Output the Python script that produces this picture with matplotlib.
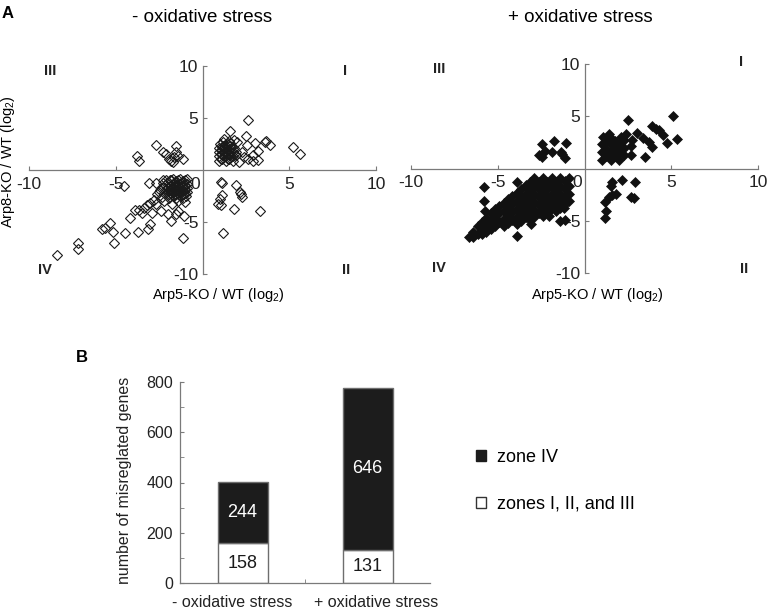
import numpy as np
import matplotlib.pyplot as plt
from matplotlib.patches import Patch

plt.rcParams['font.family'] = ['Liberation Sans', 'DejaVu Sans']
plt.rcParams['mathtext.fontset'] = 'custom'
plt.rcParams['mathtext.rm'] = 'Liberation Sans'
plt.rcParams['mathtext.default'] = 'regular'
plt.rcParams['axes.unicode_minus'] = False

# ---- panel A, - oxidative stress (Arp5-KO/WT, Arp8-KO/WT)
minus_q1 = [(0.95, 0.9), (0.95, 1.3), (0.95, 1.7), (0.97, 2.1), (1.0, 2.5),
            (1.15, 1.1), (1.15, 1.5), (1.15, 1.9), (1.17, 2.3), (1.2, 2.7),
            (1.35, 0.9), (1.35, 1.3), (1.35, 1.7), (1.37, 2.1), (1.4, 2.5),
            (1.55, 1.1), (1.55, 1.5), (1.55, 1.9), (1.57, 2.3), (1.5, 2.8),
            (1.75, 0.9), (1.75, 1.3), (1.75, 1.7), (1.8, 2.1), (1.8, 2.9),
            (1.05, 1.1), (1.05, 1.5), (1.05, 1.9), (1.25, 1.3), (1.25, 1.7),
            (1.25, 2.1), (1.45, 1.1), (1.45, 1.5), (1.45, 1.9), (1.65, 1.3),
            (1.65, 1.7), (1.65, 2.1), (1.3, 2.4), (1.1, 2.2), (1.6, 2.6),
            (1.25, 3.0), (1.95, 1.45), (1.95, 1.75), (2.0, 2.7),
            (2.65, 4.85), (1.6, 3.75), (2.5, 3.3), (3.0, 2.6), (3.6, 2.7),
            (3.65, 2.75), (3.9, 2.4), (2.55, 2.4), (3.2, 1.8), (2.9, 1.45),
            (3.2, 1.0), (2.9, 0.85), (2.4, 1.25), (2.1, 0.8), (2.6, 1.1),
            (5.2, 2.2), (5.6, 1.5), (2.3, 1.7)]
minus_q2 = [(1.05, -1.2), (1.15, -1.25), (1.95, -1.4), (2.15, -2.1), (2.3, -2.6),
            (1.1, -2.45), (1.0, -2.8), (0.9, -3.3), (1.05, -3.4), (1.8, -3.75),
            (3.3, -3.9), (1.2, -6.1), (2.2, -2.3)]
minus_q3 = [(-2.7, 2.4), (-3.8, 1.3), (-3.65, 0.9), (-2.25, 1.75), (-2.1, 1.5),
            (-1.95, 1.1), (-1.8, 0.85), (-1.5, 2.3), (-1.55, 1.75), (-1.65, 1.25),
            (-1.4, 1.3), (-1.1, 1.05), (-1.7, 0.8)]
minus_q4 = [(-0.9, -0.9), (-0.9, -1.3), (-0.9, -1.7), (-0.92, -2.1), (-0.95, -2.5),
            (-1.1, -1.1), (-1.1, -1.5), (-1.1, -1.9), (-1.12, -2.3), (-1.1, -2.7),
            (-1.3, -0.9), (-1.3, -1.3), (-1.3, -1.7), (-1.32, -2.1), (-1.3, -2.5),
            (-1.5, -1.1), (-1.5, -1.5), (-1.5, -1.9), (-1.52, -2.3), (-1.5, -2.7),
            (-1.7, -0.9), (-1.7, -1.3), (-1.7, -1.7), (-1.72, -2.1), (-1.7, -2.5),
            (-1.9, -1.0), (-1.9, -1.5), (-1.9, -1.9), (-1.92, -2.3), (-1.95, -2.7),
            (-2.1, -0.95), (-2.15, -1.4), (-2.1, -1.8), (-2.2, -2.2), (-2.35, -2.6),
            (-1.0, -1.0), (-1.0, -1.4), (-1.0, -1.8), (-1.0, -2.2), (-1.2, -1.2),
            (-1.2, -1.6), (-1.2, -2.0), (-1.2, -2.4), (-1.4, -1.0), (-1.4, -1.4),
            (-1.4, -1.8), (-1.4, -2.2), (-1.6, -1.2), (-1.6, -1.6), (-1.6, -2.0),
            (-1.6, -2.4), (-1.8, -1.0), (-1.8, -1.4), (-1.8, -1.8), (-1.8, -2.2),
            (-2.0, -1.2), (-2.0, -1.6), (-2.0, -2.0), (-2.0, -2.4), (-2.3, -1.0),
            (-2.3, -1.7), (-2.5, -2.1),
            (-2.45, -1.9), (-2.6, -2.3), (-2.8, -2.9), (-3.0, -3.2), (-3.2, -3.4),
            (-3.4, -3.65), (-3.65, -3.8), (-3.9, -3.8), (-2.7, -3.3), (-2.2, -3.0),
            (-1.4, -3.0), (-1.0, -3.1), (-1.75, -3.3),
            (-8.37, -8.2), (-7.2, -7.05), (-7.2, -7.6), (-5.82, -5.7), (-5.6, -5.6),
            (-5.32, -5.1), (-5.15, -5.95), (-5.1, -7.05), (-4.44, -6.1), (-4.5, -1.55),
            (-3.7, -6.0), (-3.17, -5.7), (-3.0, -5.2), (-4.2, -4.6), (-3.5, -4.15),
            (-2.9, -4.1), (-2.38, -3.9), (-2.0, -4.2), (-1.8, -4.9), (-1.55, -4.2),
            (-1.4, -3.9), (-1.08, -4.4), (-1.1, -6.5), (-3.1, -1.26), (-2.68, -1.26),
            (-2.3, -1.26)]

# ---- panel A, + oxidative stress
plus_q1 = [(1.0, 0.8), (1.0, 1.55), (1.0, 2.3), (1.05, 3.05),
           (1.25, 1.15), (1.25, 1.9), (1.25, 2.65),
           (1.5, 0.8), (1.5, 1.55), (1.5, 2.3), (1.45, 3.05),
           (1.75, 1.15), (1.75, 1.9), (1.75, 2.65),
           (2.0, 0.85), (2.0, 1.6), (2.0, 2.35),
           (2.25, 1.3), (2.25, 2.0), (1.15, 1.5), (1.6, 1.2), (1.9, 2.0),
           (2.5, 4.6), (5.1, 5.0), (5.35, 2.85), (3.87, 4.04), (4.1, 3.8),
           (4.3, 3.7), (4.55, 3.17), (4.78, 2.43), (3.72, 2.53), (3.87, 2.05),
           (3.39, 2.95), (3.49, 1.09), (3.0, 3.43), (2.76, 2.76), (2.66, 2.2),
           (2.7, 1.25), (2.41, 3.33), (2.27, 2.7), (2.1, 3.0), (1.4, 3.3)]
plus_q2 = [(1.56, -1.3), (1.54, -1.7), (2.14, -1.1), (2.89, -1.3), (1.6, -2.5),
           (1.41, -2.7), (1.21, -3.24), (1.25, -4.05), (1.21, -4.7), (2.66, -2.76),
           (2.85, -2.85), (1.8, -2.4)]
plus_q3 = [(-1.77, 2.63), (-1.04, 2.43), (-2.45, 2.3), (-2.3, 1.7), (-2.6, 1.3),
           (-2.45, 1.1), (-1.9, 1.57), (-1.35, 1.57), (-1.1, 1.03), (-1.3, 1.4)]
plus_q4 = [(-0.9, -0.9), (-0.88, -1.65), (-0.9, -2.4), (-0.92, -3.15),
           (-1.15, -1.2), (-1.15, -1.95), (-1.15, -2.7), (-1.17, -3.45),
           (-1.4, -0.9), (-1.4, -1.65), (-1.4, -2.4), (-1.38, -3.15), (-1.4, -3.8),
           (-1.65, -1.25), (-1.65, -2.0), (-1.65, -2.75), (-1.67, -3.5), (-1.65, -4.1),
           (-1.9, -0.9), (-1.9, -1.65), (-1.9, -2.4), (-1.9, -3.15), (-1.92, -3.9),
           (-2.15, -1.25), (-2.15, -2.0), (-2.15, -2.75), (-2.15, -3.5), (-2.17, -4.25),
           (-2.4, -0.9), (-2.4, -1.65), (-2.4, -2.4), (-2.4, -3.15), (-2.4, -3.9), (-2.42, -4.55),
           (-2.65, -1.25), (-2.65, -2.0), (-2.65, -2.75), (-2.65, -3.5), (-2.65, -4.25),
           (-2.9, -0.95), (-2.9, -1.7), (-2.9, -2.45), (-2.9, -3.2), (-2.9, -3.95), (-2.92, -4.65),
           (-3.15, -1.3), (-3.15, -2.05), (-3.15, -2.8), (-3.15, -3.55), (-3.15, -4.3), (-3.15, -4.9),
           (-3.4, -1.6), (-3.4, -2.4), (-3.4, -3.15), (-3.4, -3.9), (-3.4, -4.6),
           (-3.65, -2.0), (-3.65, -2.75), (-3.65, -3.5), (-3.65, -4.25), (-3.65, -5.0),
           (-3.9, -2.3), (-3.9, -3.1), (-3.9, -3.85), (-3.9, -4.6), (-3.9, -5.3),
           (-4.15, -2.6), (-4.15, -3.4), (-4.15, -4.15), (-4.15, -4.9),
           (-4.4, -2.9), (-4.4, -3.7), (-4.4, -4.45), (-4.4, -5.2),
           (-4.65, -3.3), (-4.65, -4.05), (-4.65, -4.8), (-4.65, -5.5),
           (-4.9, -3.55), (-4.9, -4.3), (-4.9, -5.1),
           (-5.15, -3.9), (-5.15, -4.7), (-5.15, -5.5),
           (-5.4, -4.3), (-5.4, -5.05), (-5.4, -5.75),
           (-5.65, -4.7), (-5.65, -5.45), (-5.65, -6.05),
           (-5.9, -5.1), (-5.9, -5.85), (-5.9, -6.3),
           (-6.15, -5.55), (-6.15, -6.3), (-6.4, -6.1), (-6.4, -6.6), (-6.65, -6.55),
           (-3.89, -1.3), (-5.82, -1.73), (-5.82, -3.08), (-5.72, -4.04), (-3.89, -6.44),
           (-1.39, -5.0), (-1.1, -4.9), (-3.08, -5.3), (-2.06, -4.5), (-1.2, -3.8)]

# ---- panel B
conditions = ['- oxidative stress', '+ oxidative stress']
zones_123 = [158, 131]
zone_4 = [244, 646]

W, H = 773, 612
grey = '#7a7a7a'
fig = plt.figure(figsize=(W / 100, H / 100), dpi=100)


def add_ax(l, t, r, b):
    return fig.add_axes([l / W, 1 - b / H, (r - l) / W, (b - t) / H])


def quad_axes(ax, quad_pos):
    ax.set_xlim(-10, 10)
    ax.set_ylim(-10, 10)
    ax.patch.set_alpha(0)
    for s in ['top', 'right']:
        ax.spines[s].set_visible(False)
    for s in ['left', 'bottom']:
        ax.spines[s].set_position(('data', 0))
        ax.spines[s].set_color(grey)
        ax.spines[s].set_linewidth(0.9)
    ax.set_xticks([-10, -5, 5, 10])
    ax.set_yticks([-10, -5, 5, 10])
    ax.tick_params(direction='in', length=3, color=grey, labelsize=12.5,
                   labelcolor='#222222')
    ax.tick_params(axis='x', pad=5)
    ax.tick_params(axis='y', pad=3)
    ax.annotate('0', xy=(0, 0), xytext=(-1.5, -5), textcoords='offset points',
                ha='right', va='top', fontsize=12.5, color='#222222')
    for lab, (qx, qy) in zip(['I', 'II', 'III', 'IV'], quad_pos):
        ax.text(qx, qy, lab, ha='center', va='center', fontsize=10.5,
                fontweight='bold', color='#222222', clip_on=False)


def xy(*groups):
    pts = np.array([p for g in groups for p in g])
    return pts[:, 0], pts[:, 1]


ax1 = add_ax(29, 66, 376, 274)
quad_axes(ax1, [(8.2, 9.5), (8.3, -9.6), (-8.8, 9.5), (-9.1, -9.6)])
x, y = xy(minus_q1, minus_q2, minus_q3, minus_q4)
ax1.plot(x, y, 'D', ms=4.8, mfc='none', mec='#1a1a1a', mew=0.8, ls='none')

ax2 = add_ax(411, 64, 758, 273)
quad_axes(ax2, [(9.0, 10.2), (9.2, -9.6), (-8.4, 9.5), (-8.4, -9.5)])
x, y = xy(plus_q1, plus_q2, plus_q3, plus_q4)
ax2.plot(x, y, 'D', ms=4.6, mfc='#111111', mec='#111111', mew=0.5, ls='none')

fig.text(202 / W, 1 - 18 / H, '- oxidative stress', ha='center', va='center', fontsize=13.5)
fig.text(580 / W, 1 - 18 / H, '+ oxidative stress', ha='center', va='center', fontsize=13.5)
fig.text(218 / W, 1 - 295 / H, 'Arp5-KO / WT (log$_2$)', ha='center', va='center', fontsize=10.5)
fig.text(597 / W, 1 - 295 / H, 'Arp5-KO / WT (log$_2$)', ha='center', va='center', fontsize=10.5)
fig.text(8 / W, 1 - 162 / H, 'Arp8-KO / WT (log$_2$)', ha='center', va='center',
         rotation=90, fontsize=10.5)
fig.text(8 / W, 1 - 13 / H, 'A', ha='center', va='center', fontsize=12, fontweight='bold')
fig.text(82 / W, 1 - 357 / H, 'B', ha='center', va='center', fontsize=12, fontweight='bold')

# bar chart
ax3 = add_ax(180, 382, 430, 583)
pos = np.arange(len(conditions))
ax3.bar(pos, zones_123, 0.4, color='white', edgecolor='#6e6e6e', lw=1)
ax3.bar(pos, zone_4, 0.4, bottom=zones_123, color='#1c1c1c', edgecolor='#6e6e6e', lw=1)
for i in range(len(conditions)):
    ax3.text(pos[i], zones_123[i] / 2, str(zones_123[i]), ha='center', va='center',
             fontsize=13, color='#1a1a1a')
    ax3.text(pos[i], zones_123[i] + zone_4[i] / 2, str(zone_4[i]), ha='center',
             va='center', fontsize=13, color='white')
ax3.set_xlim(-0.5, 1.5)
ax3.set_ylim(0, 800)
for s in ['top', 'right']:
    ax3.spines[s].set_visible(False)
for s in ['left', 'bottom']:
    ax3.spines[s].set_color(grey)
    ax3.spines[s].set_linewidth(0.9)
ax3.set_yticks([0, 200, 400, 600, 800])
ax3.set_yticks([100, 300, 500, 700], minor=True)
ax3.set_xticks(pos, ['', ''])
ax3.set_xticks([0.5], minor=True)
ax3.tick_params(axis='y', which='both', direction='in', length=3, color=grey,
                labelsize=11.5, labelcolor='#222222', pad=5)
ax3.tick_params(axis='x', which='major', length=0)
ax3.tick_params(axis='x', which='minor', direction='in', length=3, color=grey)
# category labels sit a little apart from the bar centres in the original
for cx, lab in zip([-0.085, 1.07], conditions):
    ax3.text(cx, -0.095, lab, transform=ax3.get_xaxis_transform(), ha='center',
             va='center', fontsize=11.5, color='#222222')
fig.text(125 / W, 1 - 480 / H, 'number of misreglated genes', ha='center', va='center',
         rotation=90, fontsize=11.5, color='#222222')

handles = [Patch(fc='#1c1c1c', ec='#1c1c1c'), Patch(fc='white', ec='#333333')]
fig.legend(handles, ['zone IV', 'zones I, II, and III'], loc='upper left',
           bbox_to_anchor=(476 / W, 1 - 449 / H), frameon=False, fontsize=13,
           handlelength=0.55, handleheight=0.55, handletextpad=0.6,
           labelspacing=1.65, borderpad=0, borderaxespad=0)

fig.savefig('out.png', dpi=100)
